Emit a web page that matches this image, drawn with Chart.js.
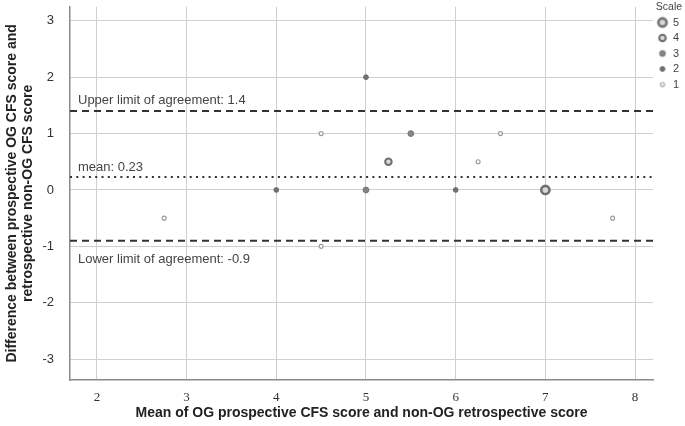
<!DOCTYPE html>
<html>
<head>
<meta charset="utf-8">
<script src="https://cdn.jsdelivr.net/npm/chart.js@4.4.1/dist/chart.umd.min.js"></script>
<style>
  html, body { margin: 0; padding: 0; background: #fff; }
  #wrap { width: 685px; height: 426px; position: relative; }
</style>
</head>
<body>
<div id="wrap"><canvas id="chart"></canvas></div>
<script>
// data
const meanScore = [7, 5.25, 5, 5.5, 4, 6, 5, 2.75, 4.5, 4.5, 6.25, 6.5, 7.75];
const diffScore = [0, 0.5, 0, 1, 0, 0, 2, -0.5, 1, -1, 0.5, 1, -0.5];
const scaleOf   = [5, 4, 3, 3, 2, 2, 2, 1, 1, 1, 1, 1, 1];
const scaleLevels = [5, 4, 3, 2, 1];

const limitNames  = ['Upper limit of agreement: 1.4', 'mean: 0.23', 'Lower limit of agreement: -0.9'];
const limitValues = [1.4, 0.23, -0.9];

const xTicks = [2, 3, 4, 5, 6, 7, 8];
const yTicks = [-3, -2, -1, 0, 1, 2, 3];
const xRange = [1.7, 8.2];
const yRange = [-3.37, 3.25];

const xTitle = 'Mean of OG prospective CFS score and non-OG retrospective score';
const yTitle = ['Difference between prospective OG CFS score and', 'retrospective non-OG CFS score'];

// styles
const markerStyle = {
  5: { r: 4.1, fill: '#d9d9d9', stroke: '#707070', w: 2.6 },
  4: { r: 3.2, fill: '#dcdcdc', stroke: '#707070', w: 2.1 },
  3: { r: 2.9, fill: '#858585', stroke: '#747474', w: 1 },
  2: { r: 2.4, fill: '#6f6f6f', stroke: '#6f6f6f', w: 1 },
  1: { r: 2, fill: '#ffffff', stroke: '#9a9a9a', w: 1.1 },
};
const limitDash = [[7, 5], [2, 4.3], [7, 5]];
const labelOffset = [-7, -6, 22];

function markerCanvas(level) {
  const s = markerStyle[level];
  const c = document.createElement('canvas');
  c.width = 14; c.height = 14;
  const g = c.getContext('2d');
  g.beginPath();
  g.arc(7, 7, s.r, 0, Math.PI * 2);
  g.fillStyle = s.fill; g.fill();
  g.lineWidth = s.w; g.strokeStyle = s.stroke; g.stroke();
  return c;
}

const pointSets = scaleLevels.map(lv => {
  const s = markerStyle[lv];
  const pts = [];
  meanScore.forEach((x, i) => { if (scaleOf[i] === lv) pts.push({ x, y: diffScore[i] }); });
  return {
    type: 'scatter',
    label: String(lv),
    data: pts,
    pointStyle: 'circle',
    pointRadius: s.r,
    pointHoverRadius: s.r,
    pointBackgroundColor: s.fill,
    pointBorderColor: s.stroke,
    pointBorderWidth: s.w,
    order: 0,
  };
});

const limitSets = limitValues.map((v, i) => ({
  type: 'line',
  label: limitNames[i],
  data: [{ x: xRange[0], y: v }, { x: xRange[1], y: v }],
  borderColor: '#333',
  borderWidth: 2,
  borderDash: limitDash[i],
  pointRadius: 0,
  fill: false,
  order: 1,
}));

const limitLabels = {
  id: 'limitLabels',
  afterDatasetsDraw(chart) {
    const { ctx, chartArea, scales } = chart;
    ctx.save();
    ctx.font = '13px "Liberation Sans", Arial, sans-serif';
    ctx.fillStyle = '#444';
    ctx.textBaseline = 'alphabetic';
    limitValues.forEach((v, i) => {
      const y = scales.y.getPixelForValue(v) + labelOffset[i];
      ctx.fillText(limitNames[i], chartArea.left + 8, y);
    });
    ctx.restore();
  }
};

function noEdgePadding(axis) {
  axis.paddingTop = 0;
  axis.paddingBottom = 0;
  axis.paddingLeft = 0;
  axis.paddingRight = 0;
}

new Chart(document.getElementById('chart'), {
  data: { datasets: [...pointSets, ...limitSets] },
  options: {
    responsive: true,
    maintainAspectRatio: false,
    animation: false,
    layout: { padding: 0 },
    plugins: {
      tooltip: { enabled: false },
      legend: {
        position: 'right',
        align: 'start',
        maxWidth: 32,
        title: {
          display: true,
          text: 'Scale',
          color: '#444',
          padding: { top: 2, bottom: 0 },
          font: { size: 10.5, family: '"Liberation Sans", Arial, sans-serif', lineHeight: 1 },
        },
        labels: {
          usePointStyle: true,
          pointStyleWidth: 10,
          boxWidth: 10,
          padding: 4.5,
          color: '#444',
          font: { size: 11, family: '"Liberation Sans", Arial, sans-serif' },
          generateLabels: () => scaleLevels.map((lv, i) => ({
            text: String(lv),
            pointStyle: markerCanvas(lv),
            datasetIndex: i,
            fillStyle: markerStyle[lv].fill,
            strokeStyle: markerStyle[lv].stroke,
            lineWidth: 0,
            hidden: false,
            fontColor: '#444',
          })),
        },
      },
    },
    scales: {
      x: {
        type: 'linear',
        min: xRange[0],
        max: xRange[1],
        afterBuildTicks: axis => { axis.ticks = xTicks.map(v => ({ value: v })); },
        afterFit: axis => { axis.height = 46; noEdgePadding(axis); },
        grid: { color: '#cfcfcf', lineWidth: 1, drawTicks: false },
        border: { color: '#8a8a8a', width: 1.5 },
        ticks: {
          padding: 10,
          color: '#333',
          font: { size: 13, family: '"Liberation Serif", "Times New Roman", serif' },
        },
        title: {
          display: true,
          text: xTitle,
          color: '#222',
          padding: { top: 0, bottom: 4 },
          font: { size: 14, weight: 'bold', family: '"Liberation Sans", Arial, sans-serif' },
        },
      },
      y: {
        type: 'linear',
        min: yRange[0],
        max: yRange[1],
        afterBuildTicks: axis => { axis.ticks = yTicks.map(v => ({ value: v })); },
        afterFit: axis => { axis.width = 70; noEdgePadding(axis); },
        grid: { color: '#cfcfcf', lineWidth: 1, drawTicks: false },
        border: { color: '#8a8a8a', width: 1.5 },
        ticks: {
          padding: 16,
          color: '#333',
          font: { size: 13, family: '"Liberation Sans", Arial, sans-serif' },
        },
        title: {
          display: true,
          text: yTitle,
          color: '#222',
          padding: { top: 4, bottom: 0 },
          font: { size: 14, weight: 'bold', lineHeight: 1.15, family: '"Liberation Sans", Arial, sans-serif' },
        },
      },
    },
  },
  plugins: [limitLabels],
});
</script>
</body>
</html>
